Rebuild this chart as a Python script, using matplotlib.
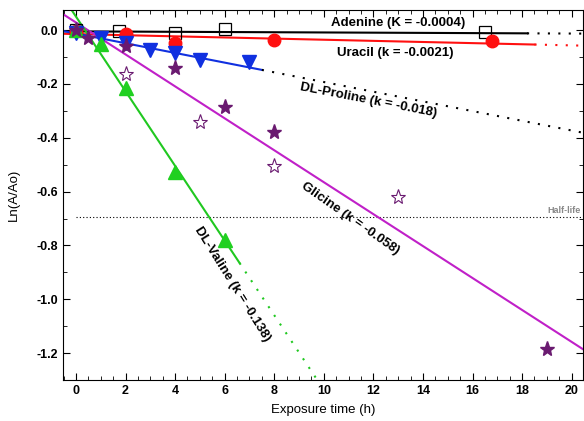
import numpy as np
import matplotlib.pyplot as plt
from matplotlib.ticker import MultipleLocator

plt.rcParams['font.family'] = ['Liberation Sans', 'DejaVu Sans']
plt.rcParams['font.weight'] = 'bold'

# measured points (exposure time h, ln(A/Ao))
ade_t = [0, 1.75, 4, 6, 16.5]
ade_y = [0.0, -0.005, -0.01, 0.002, -0.006]
ura_t = [0, 2, 4, 8, 16.8]
ura_y = [-0.005, -0.015, -0.048, -0.037, -0.042]
pro_t = [0, 1, 2, 3, 4, 5, 7]
pro_y = [-0.01, -0.03, -0.047, -0.075, -0.085, -0.112, -0.118]
gly_t = [0, 0.5, 2, 4, 6, 8, 19]
gly_y = [0.0, -0.03, -0.058, -0.142, -0.285, -0.38, -1.185]
gly2_t = [2, 5, 8, 13]
gly2_y = [-0.163, -0.34, -0.505, -0.62]
val_t = [0, 1, 2, 4, 6]
val_y = [0.0, -0.05, -0.216, -0.526, -0.78]

# fitted lines: slope k, intercept, end of the solid part
fit_k = {'ade': -0.0004, 'ura': -0.0021, 'pro': -0.018, 'gly': -0.0593, 'val': -0.1386}
fit_b = {'ade': -0.005, 'ura': -0.015, 'pro': -0.013, 'gly': 0.028, 'val': 0.05}
fit_end = {'ade': 18.2, 'ura': 18.5, 'pro': 7.5, 'gly': 20.5, 'val': 6.6}
colors = {'ade': 'black', 'ura': '#ff1010', 'pro': '#1030e0', 'gly': '#c020c8', 'val': '#20c820'}
dot_colors = {'ade': 'black', 'ura': '#ff1010', 'pro': 'black', 'gly': '#c020c8', 'val': '#20c820'}

half_life = np.log(0.5)
y_ticks = [-1.2, -1.0, -0.8, -0.6, -0.4, -0.2, 0.0]

fig = plt.figure(figsize=(5.84, 4.21), dpi=100)
ax = fig.add_axes([0.108, 0.097, 0.89, 0.879])
x0, x1 = -0.52, 20.45

for key in fit_k:
    xs = np.array([x0, fit_end[key]])
    ax.plot(xs, fit_b[key] + fit_k[key] * xs, color=colors[key], lw=1.5, zorder=2)
    if fit_end[key] < x1:
        xd = np.array([fit_end[key], x1])
        ax.plot(xd, fit_b[key] + fit_k[key] * xd, color=dot_colors[key], lw=1.5,
                ls=(0, (1, 4)), zorder=2)

ax.plot([0, x1], [half_life, half_life], color='black', lw=0.8, ls=(0, (1, 2)), zorder=1)
ax.text(20.35, half_life + 0.005, 'Half-life', color='#888888', fontsize=6.5,
        ha='right', va='bottom')

ax.plot(ade_t, ade_y, 's', mfc='none', mec='black', ms=9, mew=0.9, zorder=3)
ax.plot(ura_t, ura_y, 'o', color='#ff1010', ms=9, zorder=3)
ax.plot(pro_t, pro_y, 'v', color='#1030e0', ms=10, zorder=3)
ax.plot(val_t, val_y, '^', color='#20d020', ms=10, zorder=3)
ax.plot(gly_t, gly_y, '*', color='#6a1a70', ms=11, zorder=3)
ax.plot(gly2_t, gly2_y, '*', mfc='white', mec='#6a1a70', ms=11, mew=0.8, zorder=3)

lab = dict(fontsize=9.5, ha='center', va='center')
ax.text(13.0, 0.025, 'Adenine (K = -0.0004)', **lab)
ax.text(12.9, -0.085, 'Uracil (k = -0.0021)', **lab)
ax.text(11.8, -0.26, 'DL-Proline (k = -0.018)', rotation=-11, **lab)
ax.text(11.05, -0.70, 'Glicine (k = -0.058)', rotation=-35, **lab)
ax.text(6.3, -0.945, 'DL-Valine (k = -0.138)', rotation=-58, **lab)

ax.set_xlim(x0, x1)
ax.set_ylim(-1.3, 0.074)
ax.xaxis.set_major_locator(MultipleLocator(2))
ax.xaxis.set_minor_locator(MultipleLocator(0.5))
ax.yaxis.set_minor_locator(MultipleLocator(0.1))
ax.set_yticks(y_ticks)
ax.set_yticklabels(['%.1f' % v for v in y_ticks])
ax.tick_params(which='both', direction='in', top=True, right=True, labelsize=9)
ax.tick_params(which='major', length=5)
ax.tick_params(which='minor', length=3)
ax.set_xlabel('Exposure time (h)', fontsize=9.5, labelpad=5)
ax.set_ylabel('Ln(A/Ao)', fontsize=9.5, labelpad=12)

fig.savefig('out.png', dpi=100)
